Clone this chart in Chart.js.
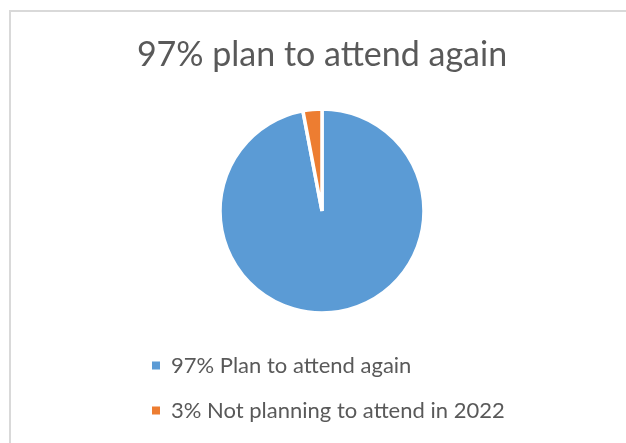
<!DOCTYPE html>
<html>
<head>
<meta charset="utf-8">
<script src="https://cdn.jsdelivr.net/npm/chart.js@4.4.1/dist/chart.umd.min.js"></script>
<style>
  html, body { margin: 0; padding: 0; background: #fff; overflow: hidden; }
  #frame { position: absolute; left: 9px; top: 10px; width: 700px; height: 500px;
           border-top: 2px solid #d9d9d9; border-left: 2px solid #d9d9d9; }
  #myChart { position: absolute; left: 0; top: 0; }
</style>
</head>
<body>
<div id="frame"></div>
<canvas id="myChart" width="626" height="443"></canvas>
<script>
// data
let chartTitle = '97% plan to attend again';
let categories = ['97% Plan to attend again', '3% Not planning to attend in 2022'];
let shares = [97, 3];
let sliceColors = ['#5B9BD5', '#ED7D31'];

let ctx = document.getElementById('myChart').getContext('2d');

window.chart = new Chart(ctx, {
  type: 'pie',
  data: {
    labels: categories,
    datasets: [{
      data: shares,
      backgroundColor: sliceColors,
      borderColor: '#ffffff',
      borderWidth: 3.5,
      radius: 102
    }]
  },
  options: {
    responsive: false,
    devicePixelRatio: 1,
    animation: false,
    layout: { padding: { left: 129, right: 111, top: 0, bottom: 11.5 } },
    plugins: {
      title: {
        display: true,
        text: chartTitle,
        color: '#595959',
        font: { family: 'Lato', size: 34, weight: 'normal' },
        padding: { top: 34.6, bottom: 15.1 }
      },
      legend: {
        position: 'bottom',
        align: 'start',
        labels: {
          color: '#595959',
          font: { family: 'Lato', size: 22 },
          boxWidth: 8,
          boxHeight: 8,
          padding: 23,
          // no white outline round the little squares
          generateLabels: (chart) =>
            Chart.overrides.pie.plugins.legend.labels.generateLabels(chart)
              .map(item => ({ ...item, lineWidth: 0 }))
        }
      },
      tooltip: { enabled: false }
    }
  }
});
</script>
</body>
</html>
